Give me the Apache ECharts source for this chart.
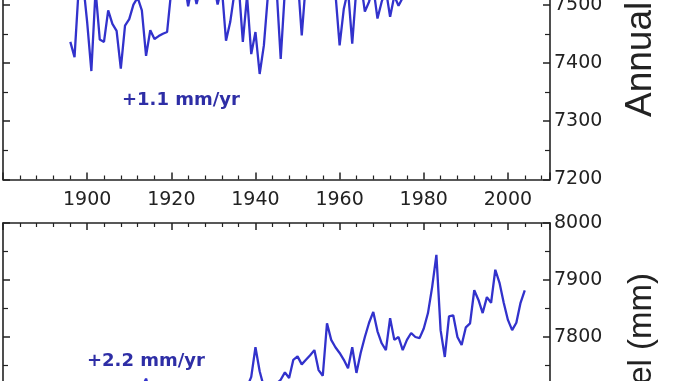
<!DOCTYPE html>
<html>
<head>
<meta charset="utf-8">
<script src="https://cdn.jsdelivr.net/npm/echarts@6/dist/echarts.min.js"></script>
<style>html,body{margin:0;padding:0;background:#fff;}#c{width:678px;height:381px;}</style>
</head>
<body>
<div id="c"></div>
<script>
// ---- data ----
const topYears = [];
for (let y = 1896; y <= 2004; y++) topYears.push(y);
const topValues = [
  7436, 7410, 7530, 7540, 7470, 7386, 7525, 7440, 7436, 7490,
  7467, 7455, 7390, 7464, 7475, 7500, 7512, 7490, 7412, 7456,
  7441, 7446, 7450, 7453, 7525, 7540, 7530, 7545, 7497, 7535,
  7501, 7530, 7550, 7525, 7540, 7500, 7530, 7438, 7470, 7520,
  7535, 7436, 7515, 7415, 7453, 7381, 7430, 7520, 7540, 7530,
  7407, 7525, 7545, 7530, 7550, 7447, 7540, 7555, 7530, 7560,
  7545, 7535, 7550, 7520, 7430, 7493, 7525, 7433, 7530, 7540,
  7488, 7505, 7530, 7476, 7505, 7525, 7479, 7515, 7498, 7512,
  7530, 7540, 7560, 7545, 7570, 7555, 7590, 7600, 7560, 7575,
  7580, 7565, 7570, 7590, 7585, 7600, 7575, 7580, 7595, 7590,
  7610, 7600, 7620, 7590, 7600, 7605, 7585, 7610, 7600
];
const bottomYears = [];
for (let y = 1900; y <= 2004; y++) bottomYears.push(y);
const bottomValues = [
  7680, 7665, 7690, 7670, 7685, 7700, 7675, 7690, 7665, 7695,
  7705, 7685, 7700, 7710, 7727, 7700, 7690, 7705, 7695, 7710,
  7700, 7690, 7705, 7712, 7695, 7705, 7690, 7700, 7712, 7695,
  7705, 7715, 7700, 7690, 7705, 7712, 7700, 7708, 7712, 7730,
  7782, 7740, 7712, 7715, 7720, 7718, 7725, 7738, 7728, 7760,
  7766, 7752, 7760, 7768, 7777, 7742, 7732, 7824, 7795, 7782,
  7772, 7760, 7745, 7782, 7737, 7772, 7800, 7825, 7844, 7810,
  7789, 7777, 7833, 7795, 7800, 7777, 7795, 7807, 7800, 7798,
  7815, 7842, 7888, 7944, 7812, 7765, 7836, 7838, 7800, 7786,
  7817, 7824, 7882, 7865, 7842, 7870, 7860, 7918, 7895, 7860,
  7830, 7812, 7825, 7860, 7882
];
const xTickYears = [1880, 1900, 1920, 1940, 1960, 1980, 2000];
const topYTicks = [7200, 7300, 7400, 7500, 7600, 7700];
const bottomYTicks = [7600, 7700, 7800, 7900, 8000];
const trendTop = '+1.1 mm/yr';
const trendBottom = '+2.2 mm/yr';
const axisTitle = 'Annual Sea Level (mm)';

// ---- chart ----
const AX = '#222';
const LINE = '#3232cc';
const labelFont = {fontFamily: '"DejaVu Sans"', fontSize: 19, color: '#222'};

function xAxis(gridIndex, position, showLabels) {
  return {
    type: 'value', gridIndex, position,
    min: xTickYears[0], max: 2010, interval: 20,
    axisLine: {show: true, onZero: false, lineStyle: {color: AX, width: 1.6}},
    axisTick: {show: true, inside: true, length: 7, lineStyle: {color: AX, width: 1.5}},
    minorTick: {show: true, splitNumber: 5, length: 4, lineStyle: {color: AX, width: 1.2}},
    splitLine: {show: false}, minorSplitLine: {show: false},
    axisLabel: Object.assign({
      show: showLabels, margin: 11,
      formatter: v => (v !== xTickYears[0] && xTickYears.indexOf(v) >= 0) ? String(v) : ''
    }, labelFont)
  };
}
function yAxis(gridIndex, position, ticks, showLabels) {
  return {
    type: 'value', gridIndex, position,
    min: ticks[0], max: ticks[ticks.length - 1], interval: 100,
    axisLine: {show: true, onZero: false, lineStyle: {color: AX, width: 1.6}},
    axisTick: {show: true, inside: true, length: 7, lineStyle: {color: AX, width: 1.5}},
    minorTick: {show: true, splitNumber: 2, length: 5, lineStyle: {color: AX, width: 1.2}},
    splitLine: {show: false}, minorSplitLine: {show: false},
    axisLabel: Object.assign({show: showLabels, margin: 4, formatter: v => String(v)}, labelFont)
  };
}

const chart = echarts.init(document.getElementById('c'), null, {renderer: 'canvas'});
chart.setOption({
  animation: false,
  backgroundColor: '#fff',
  grid: [
    {left: 3, width: 547, top: -112, height: 291.5, containLabel: false, outerBoundsMode: 'none'},
    {left: 3, width: 547, top: 223, height: 228, containLabel: false, outerBoundsMode: 'none'}
  ],
  xAxis: [
    xAxis(0, 'bottom', true),
    xAxis(1, 'top', false)
  ],
  yAxis: [
    yAxis(0, 'right', topYTicks, true),
    yAxis(0, 'left', topYTicks, false),
    yAxis(1, 'right', bottomYTicks, true),
    yAxis(1, 'left', bottomYTicks, false)
  ],
  series: [
    {
      type: 'line', xAxisIndex: 0, yAxisIndex: 0, symbol: 'none', clip: true,
      lineStyle: {color: LINE, width: 2.3},
      data: topYears.map((y, i) => [y, topValues[i]])
    },
    {
      type: 'line', xAxisIndex: 1, yAxisIndex: 2, symbol: 'none', clip: true,
      lineStyle: {color: LINE, width: 2.3},
      data: bottomYears.map((y, i) => [y, bottomValues[i]])
    }
  ],
  graphic: [
    {type: 'text', x: 122, y: 100, style: {text: trendTop, font: 'bold 18px "DejaVu Sans"', fill: '#2e2ea6', align: 'left', verticalAlign: 'middle'}},
    {type: 'text', x: 87, y: 361, style: {text: trendBottom, font: 'bold 18px "DejaVu Sans"', fill: '#2e2ea6', align: 'left', verticalAlign: 'middle'}},
    {type: 'text', x: 641, y: 117, rotation: Math.PI / 2, style: {text: axisTitle, font: '37px "Liberation Sans"', fill: '#222', align: 'left', verticalAlign: 'middle'}},
    {type: 'text', x: 642, y: 273, rotation: Math.PI / 2, style: {text: axisTitle, font: '33px "Liberation Sans"', fill: '#222', align: 'right', verticalAlign: 'middle'}}
  ]
});
</script>
</body>
</html>
